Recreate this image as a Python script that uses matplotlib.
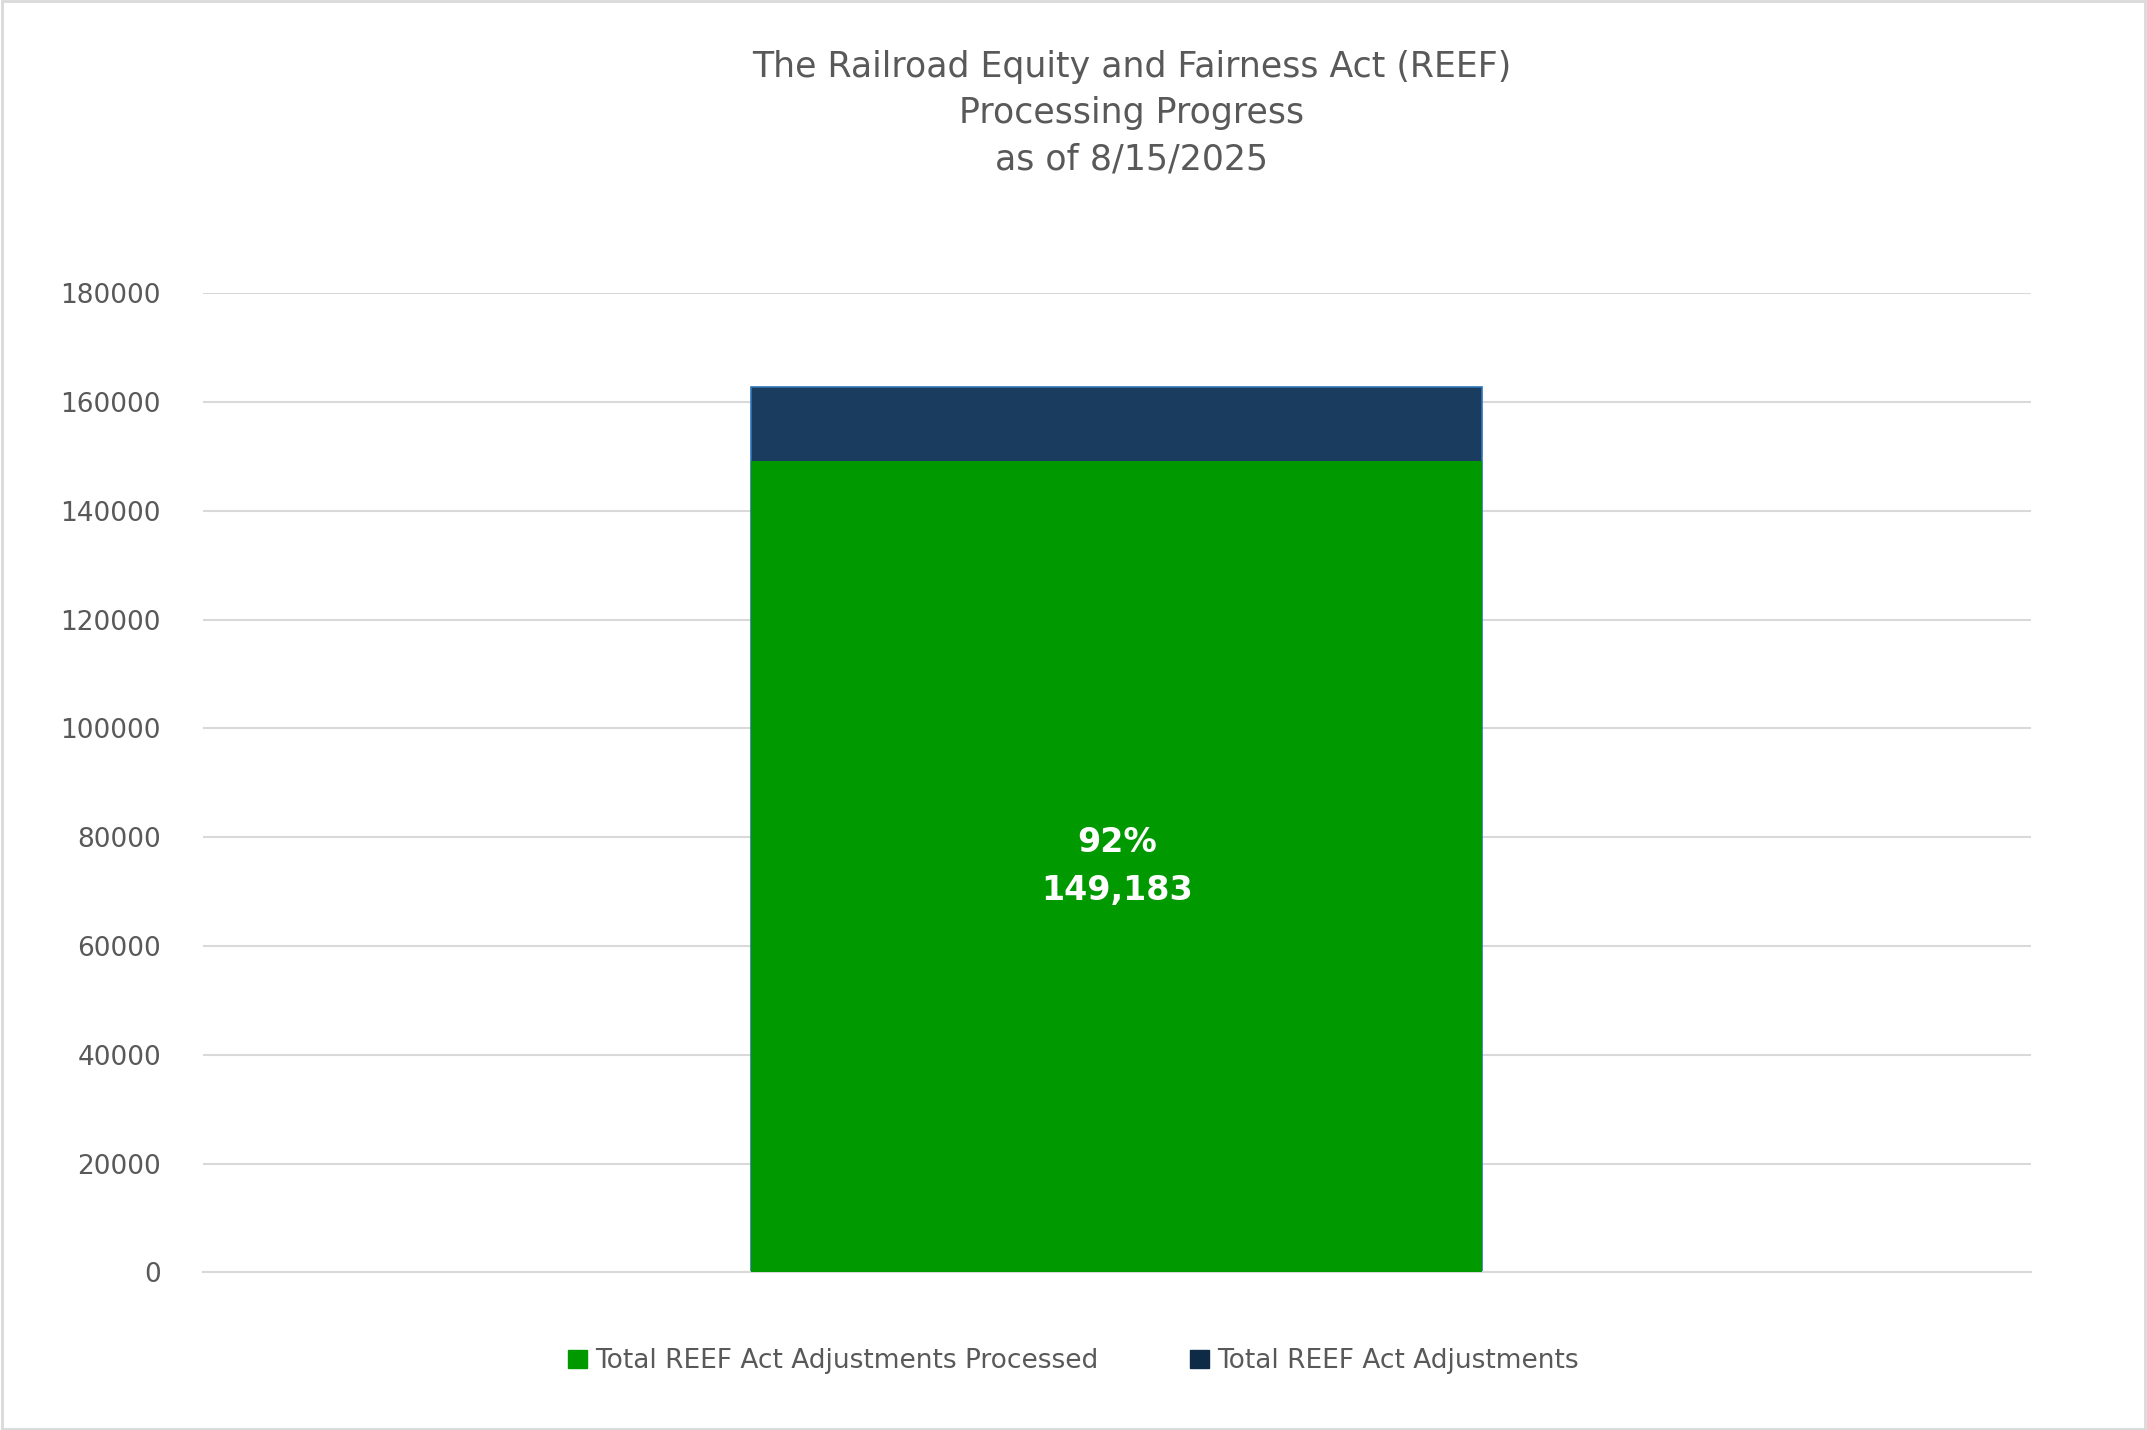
import matplotlib.pyplot as plt
from matplotlib.patches import Rectangle

CATEGORIES = ['']
TOTAL_ADJUSTMENTS = [162700]
PROCESSED = [149183]
SERIES_LABELS = ['Total REEF Act Adjustments Processed', 'Total REEF Act Adjustments']
TITLE = 'The Railroad Equity and Fairness Act (REEF)\nProcessing Progress\nas of 8/15/2025'

GRAY = '#595959'
GREEN = '#009900'
NAVY = '#1a3d5f'


def main():
    fig = plt.figure(figsize=(21.47, 14.30), dpi=100)
    ax = fig.add_axes([0.0944, 0.1102, 0.8514, 0.6848])
    x = range(len(CATEGORIES))
    ax.bar(x, TOTAL_ADJUSTMENTS, width=0.4, color=NAVY, edgecolor='#2e75b6', linewidth=1.2, zorder=2)
    ax.bar(x, PROCESSED, width=0.4, color=GREEN, zorder=3)
    for xi, p, t in zip(x, PROCESSED, TOTAL_ADJUSTMENTS):
        ax.text(xi, p / 2, f'{p / t:.0%}\n{p:,}', ha='center', va='center',
                color='white', fontsize=24, fontweight='bold', linespacing=1.6, zorder=4)
    ax.set_xlim(-0.5, 0.5)
    ax.set_ylim(0, 180000)
    ax.set_yticks(range(0, 180001, 20000))
    ax.set_xticks([])
    ax.grid(axis='y', color='#d9d9d9', linewidth=1.5, zorder=0)
    for s in ['top', 'right', 'left']:
        ax.spines[s].set_visible(False)
    ax.spines['bottom'].set_color('#d9d9d9')
    ax.spines['bottom'].set_linewidth(1.5)
    ax.tick_params(axis='y', length=0, labelsize=19, labelcolor=GRAY, pad=30)
    fig.text(0.527, 0.965, TITLE, ha='center', va='top', fontsize=25, color=GRAY, linespacing=1.45)
    handles = [Rectangle((0, 0), 1, 1, color=GREEN), Rectangle((0, 0), 1, 1, color='#0f2a47')]
    fig.legend(handles, SERIES_LABELS, loc='center', bbox_to_anchor=(0.5, 0.048), ncol=2,
               frameon=False, fontsize=19, labelcolor=GRAY, handlelength=0.7, handleheight=0.7,
               handletextpad=0.3, columnspacing=3.5)
    fig.patches.append(Rectangle((0.001, 0.001), 0.998, 0.998, transform=fig.transFigure,
                                 fill=False, edgecolor='#d9d9d9', linewidth=2))
    fig.savefig('out.png', dpi=100)


if __name__ == '__main__':
    main()
